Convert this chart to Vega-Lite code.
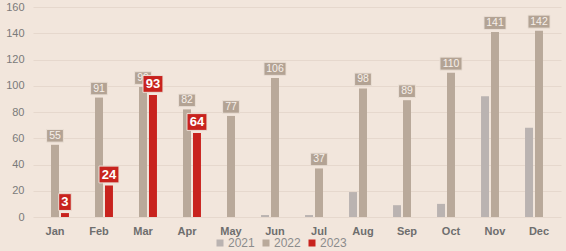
{
  "$schema": "https://vega.github.io/schema/vega-lite/v6.json",
  "width": 528,
  "height": 210,
  "autosize": {"type": "none"},
  "padding": {"left": 33, "top": 7, "right": 5, "bottom": 34},
  "background": "#f2e6dc",
  "config": {
    "view": {"stroke": null},
    "font": "Liberation Sans"
  },
  "data": {
    "values": [
      {"m": "Jan", "yr": "2022", "v": 55},
      {"m": "Feb", "yr": "2022", "v": 91},
      {"m": "Mar", "yr": "2022", "v": 99},
      {"m": "Apr", "yr": "2022", "v": 82},
      {"m": "May", "yr": "2022", "v": 77},
      {"m": "Jun", "yr": "2022", "v": 106},
      {"m": "Jul", "yr": "2022", "v": 37},
      {"m": "Aug", "yr": "2022", "v": 98},
      {"m": "Sep", "yr": "2022", "v": 89},
      {"m": "Oct", "yr": "2022", "v": 110},
      {"m": "Nov", "yr": "2022", "v": 141},
      {"m": "Dec", "yr": "2022", "v": 142},
      {"m": "Jun", "yr": "2021", "v": 1.5},
      {"m": "Jul", "yr": "2021", "v": 1.5},
      {"m": "Aug", "yr": "2021", "v": 19},
      {"m": "Sep", "yr": "2021", "v": 9},
      {"m": "Oct", "yr": "2021", "v": 10},
      {"m": "Nov", "yr": "2021", "v": 92},
      {"m": "Dec", "yr": "2021", "v": 68},
      {"m": "Jan", "yr": "2023", "v": 3},
      {"m": "Feb", "yr": "2023", "v": 24},
      {"m": "Mar", "yr": "2023", "v": 93},
      {"m": "Apr", "yr": "2023", "v": 64}
    ]
  },
  "transform": [
    {"calculate": "datum.yr + '_' + length(toString(datum.v))", "as": "k"}
  ],
  "encoding": {
    "x": {
      "field": "m", "type": "nominal",
      "scale": {"domain": ["Jan","Feb","Mar","Apr","May","Jun","Jul","Aug","Sep","Oct","Nov","Dec"], "paddingInner": 0.32, "paddingOuter": 0.16},
      "axis": {"title": null, "labelAngle": 0, "ticks": false, "domain": false, "labelFontSize": 11, "labelFontWeight": "bold", "labelColor": "#6e6e6e", "labelPadding": 8}
    },
    "xOffset": {
      "field": "yr", "type": "nominal",
      "scale": {"domain": ["2021","2022","2023"], "paddingInner": 0.2, "paddingOuter": 0.1}
    },
    "y": {
      "field": "v", "type": "quantitative",
      "scale": {"domain": [0, 160], "nice": false},
      "axis": {"title": null, "values": [0,20,40,60,80,100,120,140,160], "ticks": false, "domain": false, "labelFontSize": 11, "labelColor": "#7a7a7a", "labelPadding": 9, "gridColor": "#e6d8cd", "gridWidth": 1}
    }
  },
  "layer": [
    {
      "mark": {"type": "bar"},
      "encoding": {
        "color": {
          "field": "yr", "type": "nominal",
          "scale": {"domain": ["2021","2022","2023"], "range": ["#bab3b1","#b9a99a","#c8231e"]},
          "legend": {
            "title": null, "orient": "none", "direction": "horizontal",
            "legendX": 181, "legendY": 230,
            "symbolType": "square", "symbolSize": 49, "symbolStrokeWidth": 0,
            "labelFontSize": 12, "labelColor": "#8c8c8c", "labelOffset": 2,
            "columnPadding": 5
          }
        }
      }
    },
    {
      "transform": [{"filter": "datum.yr == '2022'"}],
      "mark": {"type": "point", "filled": true, "size": 441, "fill": "#b3a394", "opacity": 1, "stroke": "#eadfd5", "strokeWidth": 1, "yOffset": -9},
      "encoding": {
        "shape": {
          "field": "k", "type": "nominal", "legend": null,
          "scale": {"domain": ["2022_2","2022_3","2023_1","2023_2"], "range": ["M-0.8,-0.6H0.8V0.6H-0.8Z","M-1.05,-0.62H1.05V0.62H-1.05Z","M-0.6,-0.8H0.6V0.8H-0.6Z","M-0.95,-0.8H0.95V0.8H-0.95Z"]}
        }
      }
    },
    {
      "transform": [{"filter": "datum.yr == '2022'"}],
      "mark": {"type": "text", "fontSize": 10.5, "color": "#f7f0ea", "baseline": "middle", "yOffset": -9},
      "encoding": {"text": {"field": "v", "type": "quantitative"}}
    },
    {
      "transform": [{"filter": "datum.yr == '2023'"}],
      "mark": {"type": "point", "filled": true, "size": 441, "fill": "#c8231e", "opacity": 1, "stroke": "#eadfd5", "strokeWidth": 1, "yOffset": -11},
      "encoding": {
        "shape": {
          "field": "k", "type": "nominal", "legend": null,
          "scale": {"domain": ["2022_2","2022_3","2023_1","2023_2"], "range": ["M-0.8,-0.6H0.8V0.6H-0.8Z","M-1.05,-0.62H1.05V0.62H-1.05Z","M-0.6,-0.8H0.6V0.8H-0.6Z","M-0.95,-0.8H0.95V0.8H-0.95Z"]}
        }
      }
    },
    {
      "transform": [{"filter": "datum.yr == '2023'"}],
      "mark": {"type": "text", "fontSize": 13, "fontWeight": "bold", "color": "#ffffff", "baseline": "middle", "yOffset": -11},
      "encoding": {"text": {"field": "v", "type": "quantitative"}}
    }
  ]
}
